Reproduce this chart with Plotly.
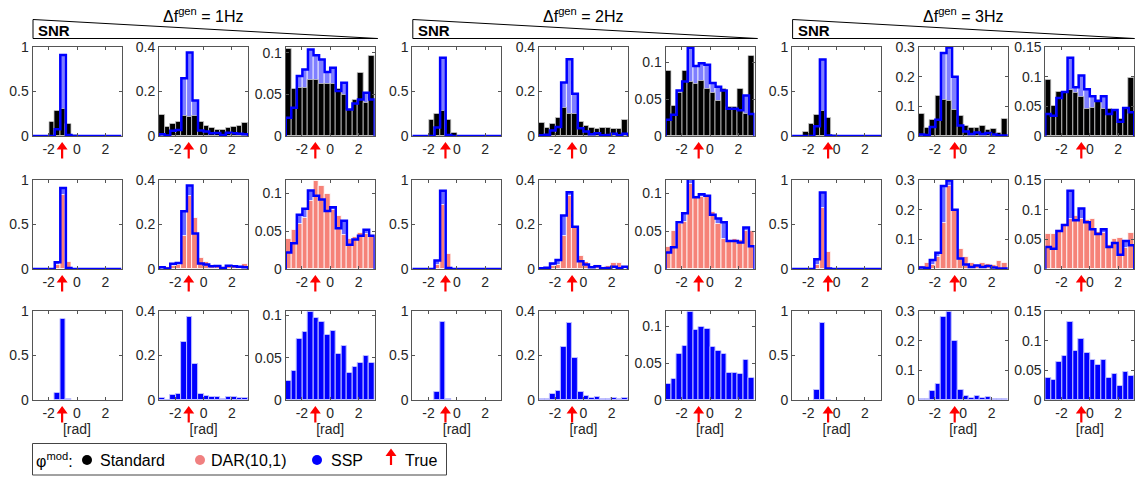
import math
import plotly.graph_objects as go

# ---------------- data ----------------
N_BINS = 16
PHASE_MIN, PHASE_MAX = -math.pi, math.pi
group_labels = ["1Hz", "2Hz", "3Hz"]
true_phase = [-1.05, -0.80, -0.60]

# SSP phase histograms (probability per bin), columns: high / mid / low SNR
ssp_1hz_hi = [0, 0, 0, 0, 0.075, 0.91, 0.01, 0, 0, 0, 0, 0, 0, 0, 0, 0]
ssp_1hz_mid = [0.008, 0.002, 0.024, 0.027, 0.26, 0.375, 0.16, 0.025, 0.02, 0.012, 0.013, 0.005, 0.015, 0.012, 0.01, 0.008]
ssp_1hz_lo = [0.022, 0.034, 0.072, 0.080, 0.104, 0.097, 0.092, 0.077, 0.082, 0.054, 0.064, 0.032, 0.039, 0.044, 0.052, 0.044]
ssp_2hz_hi = [0, 0, 0, 0, 0.095, 0.88, 0.01, 0, 0, 0, 0, 0, 0, 0, 0, 0]
ssp_2hz_mid = [0.003, 0.006, 0.025, 0.04, 0.24, 0.345, 0.19, 0.035, 0.02, 0.008, 0.012, 0.003, 0.005, 0.01, 0.003, 0.01]
ssp_2hz_lo = [0.022, 0.029, 0.062, 0.074, 0.12, 0.095, 0.099, 0.097, 0.072, 0.067, 0.062, 0.037, 0.037, 0.035, 0.055, 0.030]
ssp_3hz_hi = [0, 0, 0, 0, 0.11, 0.86, 0.005, 0, 0, 0, 0, 0, 0, 0, 0, 0]
ssp_3hz_mid = [0.005, 0.003, 0.03, 0.055, 0.28, 0.298, 0.20, 0.035, 0.015, 0.007, 0.012, 0.007, 0.01, 0.005, 0.002, 0.002]
ssp_3hz_lo = [0.037, 0.034, 0.064, 0.074, 0.132, 0.082, 0.102, 0.079, 0.067, 0.059, 0.067, 0.037, 0.044, 0.024, 0.047, 0.040]

# Standard
std_1hz_hi = [0, 0, 0.005, 0.155, 0.28, 0.30, 0.135, 0.008, 0, 0, 0, 0, 0, 0, 0, 0]
std_1hz_mid = [0.094, 0.04, 0.055, 0.065, 0.09, 0.087, 0.09, 0.065, 0.045, 0.035, 0.025, 0.025, 0.035, 0.04, 0.045, 0.06]
std_1hz_lo = [0.105, 0.056, 0.058, 0.058, 0.067, 0.067, 0.062, 0.062, 0.062, 0.057, 0.049, 0.031, 0.043, 0.076, 0.040, 0.096]
std_2hz_hi = [0, 0, 0, 0.18, 0.246, 0.284, 0.18, 0.03, 0, 0, 0, 0, 0, 0, 0, 0]
std_2hz_mid = [0.06, 0.036, 0.055, 0.08, 0.125, 0.10, 0.10, 0.065, 0.045, 0.035, 0.03, 0.035, 0.035, 0.03, 0.03, 0.07]
std_2hz_lo = [0.089, 0.041, 0.059, 0.089, 0.073, 0.071, 0.075, 0.064, 0.059, 0.048, 0.064, 0.040, 0.040, 0.064, 0.030, 0.109]
std_3hz_hi = [0, 0, 0.05, 0.14, 0.235, 0.28, 0.205, 0.01, 0, 0, 0, 0, 0, 0, 0, 0]
std_3hz_mid = [0.074, 0.028, 0.055, 0.136, 0.122, 0.119, 0.087, 0.066, 0.035, 0.026, 0.026, 0.033, 0.020, 0.025, 0.010, 0.059]
std_3hz_lo = [0.095, 0.050, 0.074, 0.072, 0.078, 0.072, 0.066, 0.045, 0.047, 0.060, 0.045, 0.045, 0.043, 0.028, 0.045, 0.098]

# DAR(10,1)
dar_1hz_hi = [0, 0, 0, 0, 0.045, 0.83, 0.08, 0.005, 0, 0, 0, 0, 0, 0, 0, 0]
dar_1hz_mid = [0.005, 0.01, 0.015, 0.02, 0.15, 0.33, 0.23, 0.05, 0.03, 0.02, 0.015, 0.01, 0.01, 0.012, 0.01, 0.022]
dar_1hz_lo = [0.040, 0.052, 0.060, 0.068, 0.090, 0.117, 0.110, 0.100, 0.078, 0.070, 0.045, 0.040, 0.042, 0.048, 0.046, 0.045]
dar_2hz_hi = [0, 0, 0, 0, 0.04, 0.717, 0.17, 0.005, 0, 0, 0, 0, 0, 0, 0, 0]
dar_2hz_mid = [0.005, 0.01, 0.012, 0.02, 0.15, 0.33, 0.19, 0.06, 0.03, 0.015, 0.02, 0.01, 0.015, 0.025, 0.025, 0.012]
dar_2hz_lo = [0.029, 0.051, 0.060, 0.062, 0.113, 0.097, 0.095, 0.096, 0.075, 0.060, 0.040, 0.038, 0.040, 0.038, 0.050, 0.051]
dar_3hz_hi = [0, 0, 0, 0, 0.05, 0.68, 0.19, 0.005, 0, 0, 0, 0, 0, 0, 0, 0]
dar_3hz_mid = [0.01, 0.02, 0.015, 0.04, 0.155, 0.28, 0.20, 0.068, 0.04, 0.02, 0.01, 0.02, 0.018, 0.015, 0.028, 0.02]
dar_3hz_lo = [0.059, 0.059, 0.066, 0.076, 0.085, 0.09, 0.085, 0.083, 0.085, 0.062, 0.06, 0.04, 0.05, 0.052, 0.035, 0.06]

ssp = [[ssp_1hz_hi, ssp_1hz_mid, ssp_1hz_lo], [ssp_2hz_hi, ssp_2hz_mid, ssp_2hz_lo], [ssp_3hz_hi, ssp_3hz_mid, ssp_3hz_lo]]
std = [[std_1hz_hi, std_1hz_mid, std_1hz_lo], [std_2hz_hi, std_2hz_mid, std_2hz_lo], [std_3hz_hi, std_3hz_mid, std_3hz_lo]]
dar = [[dar_1hz_hi, dar_1hz_mid, dar_1hz_lo], [dar_2hz_hi, dar_2hz_mid, dar_2hz_lo], [dar_3hz_hi, dar_3hz_mid, dar_3hz_lo]]

# axis limits (per column, per row) and ticks
ymax_1hz = [[1.0, 1.0, 1.0], [0.4, 0.4, 0.4], [0.107, 0.118, 0.105]]
ymax_2hz = [[1.0, 1.0, 1.0], [0.4, 0.4, 0.4], [0.121, 0.118, 0.121]]
ymax_3hz = [[1.0, 1.0, 1.0], [0.3, 0.3, 0.3], [0.15, 0.15, 0.15]]
yticks_1hz = [[0, 0.5, 1], [0, 0.2, 0.4], [0, 0.05, 0.1]]
yticks_2hz = [[0, 0.5, 1], [0, 0.2, 0.4], [0, 0.05, 0.1]]
yticks_3hz = [[0, 0.5, 1], [0, 0.1, 0.2, 0.3], [0, 0.05, 0.1, 0.15]]
xtick_vals = [-2, 0, 2]
xtick_text = ["-2", "0", "2"]
ymax = [ymax_1hz, ymax_2hz, ymax_3hz]
yticks = [yticks_1hz, yticks_2hz, yticks_3hz]

legend_labels = ["Standard", "DAR(10,1)", "SSP", "True"]

# ---------------- style / layout ----------------
FIG_W, FIG_H = 1135, 478
COL_LEFT0, COL_STEP, COL_W = 32.5, 126.6, 89.0
ROW_TOP = [47.0, 180.0, 311.0]
ROW_H = 89.0
FONT = "Liberation Sans, Arial, Helvetica, sans-serif"
AX_COLOR = "#555555"
TXT_COLOR = "#262626"
C_STD = "#000000"
C_DAR = "rgb(246,130,120)"
C_SSP = "#0000FF"
C_TRUE = "#FF0000"

# upward arrow glyph, pixel offsets relative to its anchor (y positive = up)
ARROW_PATH = ("M 0,-6 L 5.5,-13.5 L 1.1,-13.5 L 1.1,-22.5 "
              "L -1.1,-22.5 L -1.1,-13.5 L -5.5,-13.5 Z")

edges = [PHASE_MIN + k * (PHASE_MAX - PHASE_MIN) / N_BINS for k in range(N_BINS + 1)]
centers = [(edges[k] + edges[k + 1]) / 2 for k in range(N_BINS)]
bw = edges[1] - edges[0]


def nz(vals):
    return [v if v > 0 else None for v in vals]


def px_x(p):
    return p / FIG_W


def px_y(p):
    return 1 - p / FIG_H


fig = go.Figure()
annotations = []
shapes = []
axes = {}

idx = 0
for g in range(3):
    for c in range(3):
        col = g * 3 + c
        left = COL_LEFT0 + col * COL_STEP
        for r in range(3):
            idx += 1
            xa = "x" if idx == 1 else f"x{idx}"
            ya = "y" if idx == 1 else f"y{idx}"
            s = ssp[g][c]
            if r < 2:
                fig.add_trace(go.Bar(
                    x=centers, y=nz(s), width=bw, xaxis=xa, yaxis=ya,
                    marker=dict(color="rgba(0,0,255,0.5)" if r == 0 else "rgba(0,0,255,0.58)",
                                line=dict(color="rgba(255,255,255,0.75)", width=1)),
                    showlegend=False, hoverinfo="skip"))
                other = std[g][c] if r == 0 else dar[g][c]
                ocol = C_STD if r == 0 else C_DAR
                ocol_line = "rgba(200,200,200,0.8)" if r == 0 else "rgba(255,255,255,0.8)"
                fig.add_trace(go.Bar(
                    x=centers, y=nz(other), width=bw, xaxis=xa, yaxis=ya,
                    marker=dict(color=ocol, line=dict(color=ocol_line, width=1)),
                    showlegend=False, hoverinfo="skip"))
                sx = [edges[0]] + edges[:N_BINS] + [edges[N_BINS], edges[N_BINS]]
                sy = [0] + list(s) + [s[-1], 0]
                fig.add_trace(go.Scatter(
                    x=sx, y=sy, xaxis=xa, yaxis=ya, mode="lines",
                    line=dict(color=C_SSP, width=2.5, shape="hv"),
                    showlegend=False, hoverinfo="skip"))
            else:
                fig.add_trace(go.Bar(
                    x=centers, y=nz(s), width=bw, xaxis=xa, yaxis=ya,
                    marker=dict(color=C_SSP, line=dict(color="rgba(190,190,255,1)", width=1)),
                    showlegend=False, hoverinfo="skip"))

            top = ROW_TOP[r]
            yt = yticks[g][c]
            xdef = dict(
                domain=[px_x(left), px_x(left + COL_W)], anchor=ya,
                range=[PHASE_MIN, PHASE_MAX], tickvals=xtick_vals, ticktext=xtick_text,
                ticks="inside", ticklen=3, tickcolor=AX_COLOR, mirror="ticks",
                showline=True, linecolor=AX_COLOR, linewidth=1,
                showgrid=False, zeroline=False, automargin=False,
                tickfont=dict(family=FONT, size=14, color=TXT_COLOR))
            if r == 2:
                xdef["title"] = dict(text="[rad]", font=dict(family=FONT, size=14, color=TXT_COLOR), standoff=3)
            ydef = dict(
                domain=[px_y(top + ROW_H), px_y(top)], anchor=xa,
                range=[0, ymax[g][c][r]], tickvals=yt, ticktext=[f"{v:g}" for v in yt],
                ticks="inside", ticklen=3, tickcolor=AX_COLOR, mirror="ticks",
                showline=True, linecolor=AX_COLOR, linewidth=1,
                showgrid=False, zeroline=False, automargin=False,
                tickfont=dict(family=FONT, size=14, color=TXT_COLOR))
            axes["xaxis" if idx == 1 else f"xaxis{idx}"] = xdef
            axes["yaxis" if idx == 1 else f"yaxis{idx}"] = ydef

            # true-phase arrow below the x-axis
            shapes.append(dict(
                type="path", xref=xa, yref="paper",
                xsizemode="pixel", ysizemode="pixel",
                xanchor=true_phase[g], yanchor=px_y(top + ROW_H),
                path=ARROW_PATH, fillcolor=C_TRUE, line=dict(width=0)))

    # group header: title and SNR wedge
    gl = COL_LEFT0 + g * 3 * COL_STEP
    gr = gl + 2 * COL_STEP + COL_W
    annotations.append(dict(
        x=px_x((gl + gr) / 2), y=px_y(15), xref="paper", yref="paper",
        text=f"Δf<sup>gen</sup> = {group_labels[g]}", showarrow=False,
        xanchor="center", yanchor="middle", font=dict(family=FONT, size=16, color="#000000")))
    wl = gl + 0.5
    wr = min(gr + 3, FIG_W - 0.5)
    shapes.append(dict(
        type="path", xref="paper", yref="paper",
        path=f"M {px_x(wl)},{px_y(19.5)} L {px_x(wr)},{px_y(38.5)} L {px_x(wl)},{px_y(38.5)} Z",
        line=dict(color="#000000", width=1), fillcolor="rgba(255,255,255,0)"))
    annotations.append(dict(
        x=px_x(wl + 3), y=px_y(30.5), xref="paper", yref="paper", text="<b>SNR</b>",
        showarrow=False, xanchor="left", yanchor="middle",
        font=dict(family=FONT, size=15, color="#000000")))

# ---------------- custom legend ----------------
LEG_Y = 460
shapes.append(dict(type="rect", xref="paper", yref="paper",
                   x0=px_x(32.5), x1=px_x(446.5), y0=px_y(475), y1=px_y(443.5),
                   line=dict(color="#444444", width=1), fillcolor="#FFFFFF", layer="below"))
annotations.append(dict(x=px_x(34), y=px_y(LEG_Y), xref="paper", yref="paper",
                        text="φ<sup>mod</sup>:", showarrow=False, xanchor="left", yanchor="middle",
                        font=dict(family=FONT, size=16, color="#000000")))
for cx, color, tx, label in [(87, C_STD, 98, legend_labels[0]),
                             (200, "rgb(240,128,128)", 209, legend_labels[1]),
                             (317, C_SSP, 329, legend_labels[2])]:
    shapes.append(dict(type="circle", xref="paper", yref="paper",
                       x0=px_x(cx - 5), x1=px_x(cx + 5), y0=px_y(LEG_Y + 5), y1=px_y(LEG_Y - 5),
                       fillcolor=color, line=dict(width=0)))
    annotations.append(dict(x=px_x(tx), y=px_y(LEG_Y), xref="paper", yref="paper", text=label,
                            showarrow=False, xanchor="left", yanchor="middle",
                            font=dict(family=FONT, size=16, color="#000000")))
shapes.append(dict(type="path", xref="paper", yref="paper",
                   xsizemode="pixel", ysizemode="pixel",
                   xanchor=px_x(391), yanchor=px_y(442.5),
                   path=ARROW_PATH, fillcolor=C_TRUE, line=dict(width=0)))
annotations.append(dict(x=px_x(403), y=px_y(LEG_Y), xref="paper", yref="paper", text=legend_labels[3],
                        showarrow=False, xanchor="left", yanchor="middle",
                        font=dict(family=FONT, size=16, color="#000000")))

fig.update_layout(
    width=FIG_W, height=FIG_H, margin=dict(l=0, r=0, t=0, b=0, pad=0), autosize=False,
    paper_bgcolor="#FFFFFF", plot_bgcolor="#FFFFFF",
    barmode="overlay", bargap=0, showlegend=False,
    font=dict(family=FONT, color=TXT_COLOR),
    annotations=annotations, shapes=shapes, **axes)

fig.write_html(
    "out.html",
    config={"displayModeBar": False, "responsive": False},
    post_script="document.body.style.margin='0';document.body.style.padding='0';"
                "document.body.style.overflow='hidden';",
)
